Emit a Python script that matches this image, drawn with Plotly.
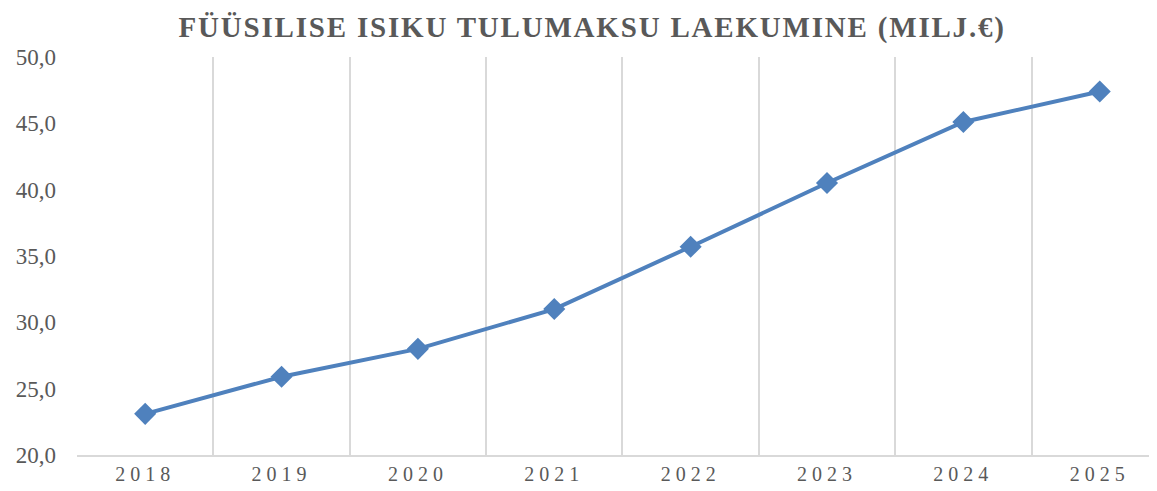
import plotly.graph_objects as go

years = ["2018", "2019", "2020", "2021", "2022", "2023", "2024", "2025"]
values = [23.1, 25.9, 28.0, 31.0, 35.7, 40.5, 45.1, 47.4]
y_ticks = [20, 25, 30, 35, 40, 45, 50]
title_text = "FÜÜSILISE ISIKU TULUMAKSU LAEKUMINE (MILJ.€)"

GRAY = "#595959"
GRID = "#d9d9d9"
BLUE = "#4f81bd"
FONT = "Liberation Serif, DejaVu Serif, serif"

fig = go.Figure()
fig.add_trace(go.Scatter(
    x=years, y=values, mode="lines+markers",
    line=dict(color=BLUE, width=4),
    marker=dict(symbol="diamond", size=17, color=BLUE),
    hoverinfo="x+y", showlegend=False,
))

fig.update_layout(
    width=1149, height=483,
    margin=dict(l=69, r=0, t=49, b=36, autoexpand=False),
    paper_bgcolor="white", plot_bgcolor="white",
    separators=",.",
    title=dict(
        text='<span style="letter-spacing:1.8px">' + title_text + '</span>',
        x=0.477, xanchor="center", xref="paper", y=0.962, yanchor="middle",
        font=dict(family=FONT, size=29, color=GRAY, weight="bold"),
    ),
    xaxis=dict(
        type="category",
        range=[-0.5, 7.42],
        tickson="boundaries",
        showgrid=True, gridcolor=GRID, gridwidth=2,
        showline=True, linecolor=GRID, linewidth=2,
        ticks="", tickvals=years,
        ticktext=['<span style="letter-spacing:5px">' + y + '</span>' for y in years],
        tickfont=dict(family=FONT, size=20, color=GRAY),
        zeroline=False, fixedrange=True, automargin=False,
    ),
    yaxis=dict(
        range=[20, 50], tickvals=y_ticks, tickformat=".1f",
        showgrid=False, zeroline=False, showline=False,
        ticks="", ticklabelstandoff=20,
        tickfont=dict(family=FONT, size=23, color=GRAY),
        fixedrange=True, automargin=False,
    ),
)

fig.write_html("out.html")
